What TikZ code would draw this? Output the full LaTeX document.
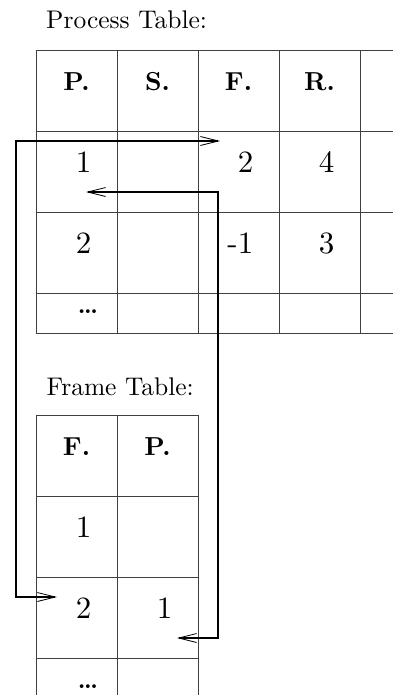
\documentclass[tikz,border=0pt]{standalone}
\usepackage{fontspec}
\setmainfont{lmroman10-regular.otf}[BoldFont=lmroman10-bold.otf]
\usetikzlibrary{arrows.meta}
\begin{document}
\begin{tikzpicture}[x=1pt,y=-1pt,
  cell/.style={draw=black!75,line width=0.8pt,inner sep=0pt,minimum width=81pt},
  num/.style={font=\fontsize{31}{36}\selectfont,inner sep=0pt,anchor=base east},
  hdr/.style={font=\fontsize{26}{30}\selectfont\bfseries,inner sep=0pt,anchor=base},
  lbl/.style={font=\fontsize{25.5}{30}\selectfont,inner sep=0pt,anchor=base west},
  dots/.style={font=\fontsize{24}{28}\selectfont\bfseries,inner sep=0pt},
  link/.style={line width=1.6pt,{Straight Barb[length=18pt,width=9pt,line width=0.8pt]}-{Straight Barb[length=18pt,width=9pt,line width=0.8pt]}}]
\useasboundingbox (0,0) rectangle (392,695);
% Process table
\node[lbl] (ptl) at (46,28.5) {Process Table:};
\foreach \c [count=\i] in {36,117,198,279,360} {
  \foreach \r/\h [count=\j] in {50/81,131/81,212/81,293/40} {
    \node[cell,minimum height=\h pt] (p-\j-\i) at (\c+40.5,\r+\h/2) {};
  }
}
\node[hdr] (ph1) at (76.5,90.7) {P.};
\node[hdr] (ph2) at (157.5,90.7) {S.};
\node[hdr] (ph3) at (238.5,90.7) {F.};
\node[hdr] (ph4) at (319.5,90.7) {R.};
\node[num] (pv11) at (91.5,172) {1};
\node[num] (pv13) at (253.5,172) {2};
\node[num] (pv14) at (334.5,172) {4};
\node[num] (pv21) at (91.5,253) {2};
\node[num] (pv23) at (253.5,253) {-1};
\node[num] (pv24) at (334.5,253) {3};
\node[dots] (pd) at (88,312) {\ldots};
% Frame table
\node[lbl] (ftl) at (46.5,395) {Frame Table:};
\foreach \c [count=\i] in {36,117} {
  \foreach \r/\h [count=\j] in {415/81,496/81,577/81,658/40} {
    \node[cell,minimum height=\h pt] (f-\j-\i) at (\c+40.5,\r+\h/2) {};
  }
}
\node[hdr] (fh1) at (76.5,455.7) {F.};
\node[hdr] (fh2) at (157.5,455.7) {P.};
\node[num] (fv11) at (91.5,537) {1};
\node[num] (fv21) at (91.5,618) {2};
\node[num] (fv22) at (172.5,618) {1};
\node[dots] (fd) at (88,687) {\ldots};
% connectors
\coordinate (a1) at (220,141);
\coordinate (a1c1) at (16,141);
\coordinate (a1c2) at (16,597);
\coordinate (a1e) at (57,597);
\coordinate (a2) at (86,192);
\coordinate (a2c1) at (218,192);
\coordinate (a2c2) at (218,638);
\coordinate (a2e) at (177,638);
\draw[link] (a1) -- (a1c1) -- (a1c2) -- (a1e);
\draw[link] (a2) -- (a2c1) -- (a2c2) -- (a2e);
\end{tikzpicture}
\end{document}
